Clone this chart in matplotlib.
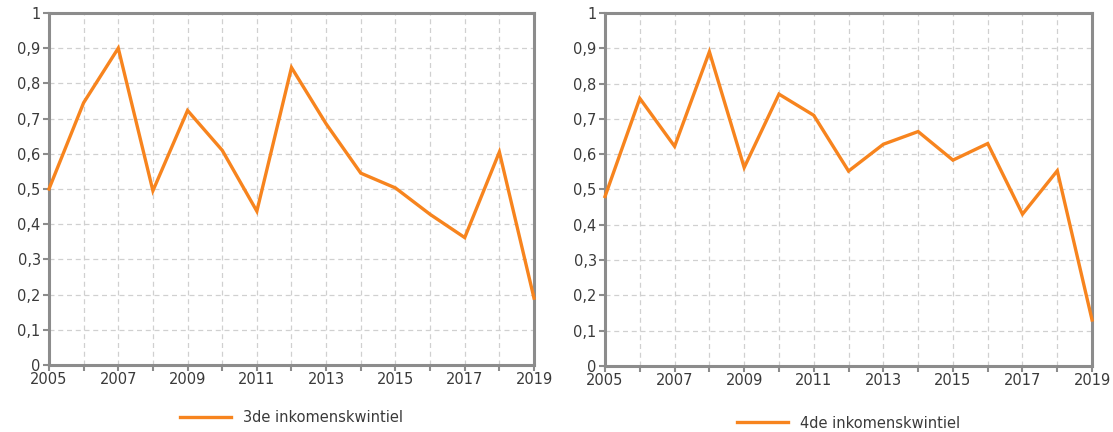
import numpy as np
import matplotlib
matplotlib.use("Agg")
import matplotlib.pyplot as plt
from matplotlib.ticker import FuncFormatter, MultipleLocator, FixedLocator

years = list(range(2005, 2020))
q3 = [0.50, 0.745, 0.90, 0.495, 0.723, 0.61, 0.437, 0.845, 0.685, 0.545,
      0.503, 0.428, 0.362, 0.605, 0.19]
q4 = [0.48, 0.758, 0.622, 0.89, 0.562, 0.77, 0.71, 0.552, 0.628, 0.664,
      0.583, 0.63, 0.43, 0.553, 0.13]
labels = ["3de inkomenskwintiel", "4de inkomenskwintiel"]

orange = "#F7841E"
txt = "#3a3a3a"
spine = "#8c8c8c"

plt.rcParams['font.family'] = ['DejaVu Sans']

fig = plt.figure(figsize=(11.13, 4.32), dpi=100)
ax1 = fig.add_axes([0.044, 0.155, 0.4358, 0.815])
ax2 = fig.add_axes([0.5436, 0.153, 0.4376, 0.817])


def style(ax, series, label, leg_y):
    ax.plot(years, series, color=orange, lw=2.4, solid_joinstyle='miter', label=label,
            clip_on=False, zorder=3)
    ax.set_xlim(2005, 2019)
    ax.set_ylim(0, 1)
    ax.xaxis.set_major_locator(FixedLocator(years[::2]))
    ax.xaxis.set_minor_locator(FixedLocator(years[1::2]))
    ax.yaxis.set_major_locator(MultipleLocator(0.1))
    ax.yaxis.set_major_formatter(FuncFormatter(
        lambda v, p: "0" if abs(v) < 1e-9 else ("1" if abs(v - 1) < 1e-9 else f"{v:.1f}".replace(".", ","))))
    ax.grid(True, which='both', color="#d0d0d0", ls=(0, (4, 3)), lw=0.9)
    for s in ax.spines.values():
        s.set_color(spine)
        s.set_linewidth(2.2)
    ax.tick_params(axis='x', which='both', direction='out', length=4, width=1.5,
                   color=spine, labelcolor=txt, labelsize=10.5, pad=1)
    ax.tick_params(axis='y', which='both', direction='out', length=4, width=1.5,
                   color=spine, labelcolor=txt, labelsize=10.5, pad=2)
    ax.set_axisbelow(True)
    ax.legend(loc='center', bbox_to_anchor=(0.5, leg_y), frameon=False,
              fontsize=10.5, handlelength=3.5, labelcolor=txt)


style(ax1, q3, labels[0], -0.148)
style(ax2, q4, labels[1], -0.162)

fig.savefig("out.png", dpi=100)
